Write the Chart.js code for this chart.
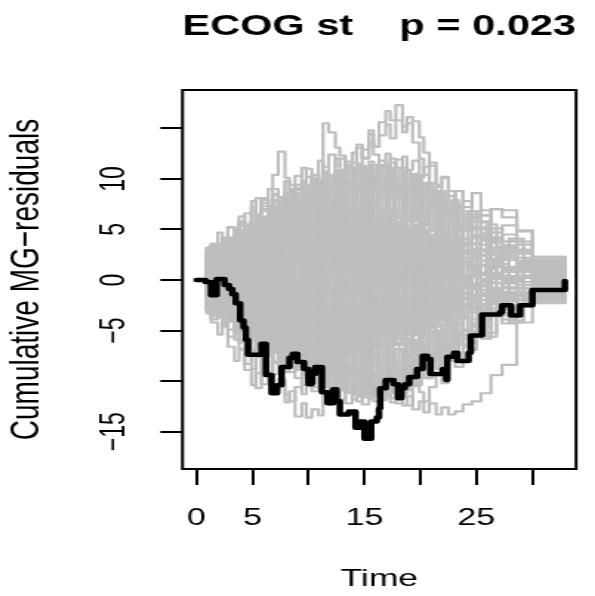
<!DOCTYPE html>
<html>
<head>
<meta charset="utf-8">
<title>ECOG st - cumulative MG residuals</title>
<script src="https://cdn.jsdelivr.net/npm/chart.js@4/dist/chart.umd.min.js"></script>
<style>
  html, body { margin: 0; padding: 0; background: #fff; overflow: hidden; }
  /* the R device was narrow and got stretched sideways, so draw narrow and stretch too */
  #wrap { width: 402px; height: 596px; transform: scale(1.4801, 1); transform-origin: 0 0; }
</style>
</head>
<body>
<div id="wrap"><canvas id="chart" width="402" height="596"></canvas></div>
<script>
// observed process (black)
const blackTimes = [0, 0.8, 1.3, 1.8, 2.5, 2.9, 3.2, 3.5, 3.9, 4.2, 4.4, 4.6, 5.8, 6.2, 6.7, 7.2, 7.6, 8.3, 8.6, 9.0,
  9.6, 10.0, 10.3, 10.6, 11.2, 11.7, 12.2, 12.5, 12.8, 13.6, 14.2, 14.6, 15.0, 15.6, 16.1, 16.3, 16.4, 16.9, 17.6, 18.0,
  18.3, 18.6, 19.0, 19.7, 20.2, 20.6, 20.9, 22.0, 22.3, 22.4, 23.0, 23.3, 24.3, 24.5, 25.5, 27.1, 27.3, 28.1, 28.9, 30.0, 32.9]
const blackValues = [0, -0.2, -1.5, 0.1, -0.5, -0.9, -1.4, -2.3, -4.0, -4.7, -5.9, -7.4, -6.3, -9.4, -11.2, -10.4, -8.6, -7.7, -7.3, -8.1,
  -8.8, -10.3, -9.3, -8.6, -11.1, -12.2, -10.8, -12.0, -13.3, -13.0, -14.6, -14.0, -15.7, -14.0, -13.6, -12.7, -10.7, -9.9, -10.3, -11.7,
  -10.7, -10.3, -9.6, -8.8, -7.5, -7.8, -9.3, -8.8, -9.9, -7.6, -7.2, -8.0, -7.2, -5.5, -3.4, -3.2, -2.5, -3.5, -2.5, -1.0, -0.1]

// simulated processes (grey), first batch
const simTimes = [0, 0.9, 1.3, 1.9, 2.3, 2.8, 3.4, 3.8, 4.3,
  4.9, 5.3, 5.8, 6.4, 6.8, 7.3, 7.9, 8.3, 8.8,
  9.4, 9.8, 10.3, 10.9, 11.3, 11.8, 12.4, 12.8, 13.3,
  13.9, 14.3, 14.8, 15.4, 15.8, 16.3, 16.9, 17.3, 17.8,
  18.4, 18.8, 19.3, 19.9, 20.3, 20.8, 21.4, 21.9, 22.5,
  23.1, 23.8, 24.6, 25.4, 26.3, 27.3, 28.6, 30.0, 32.9]
const simPaths = [
  [0, 1.2, 2.6, 1.4, 3.1, 2.2, 3.6, 4.8, 3.9, 5.6, 4.4, 6.8, 5.5, 7.3, 6.1, 8.2, 7.0, 9.1, 8.0, 9.4, 8.3, 9.6, 15.5, 14.6, 13.1, 12.3, 11.2,
    12.6, 11.5, 12.9, 14.4, 13.2, 15.6, 16.7, 15.8, 17.3, 15.2, 16.1, 15.7, 14.1, 12.6, 11.3, 9.4, 10.2, 7.6, 8.8, 6.8, 5.2, 6.4, 4.1, 3.4, 2.8, 1.6, 1.9],
  [0, -0.8, 0.5, 1.4, 0.3, 2.2, 1.1, 2.6, 3.4, 2.2, 4.4, 3.1, 5.1, 3.9, 6.3, 5.0, 7.1, 5.8, 8.0, 6.6, 9.1, 7.7, 9.4, 8.2, 10.8, 9.3, 11.4,
    10.2, 13.4, 12.1, 14.8, 13.2, 14.3, 15.4, 14.0, 15.8, 14.6, 15.5, 13.6, 12.0, 10.4, 11.6, 9.2, 10.1, 8.8, 6.9, 7.8, 5.8, 5.0, 4.2, 3.1, 2.9, 2.3, 2.1],
  [0, 2.1, 3.3, 2.2, 4.1, 5.2, 4.0, 5.5, 4.4, 5.9, 8.1, 7.0, 9.0, 10.4, 12.7, 10.1, 9.4, 8.1, 9.3, 7.6, 8.6, 7.2, 6.3, 7.5, 5.4, 6.6, 4.8,
    6.1, 4.5, 3.9, 5.0, 2.6, 3.8, 2.2, 3.1, 1.4, 2.7, 1.0, 1.8, 0.6, 1.9, 0.4, 0.9, 2.0, 2.4, 1.1, 1.6, 0.8, 1.9, 1.4, 0.4, 1.5, 1.2, 1.0],
  [0, -2.2, -3.4, -2.5, -4.6, -3.7, -5.9, -6.8, -8.3, -7.1, -10.7, -9.4, -10.2, -11.0, -9.8, -12.1, -11.0, -13.5, -12.2, -13.6, -12.8, -13.4, -11.2, -12.3, -10.6, -11.8, -9.4,
    -10.5, -8.2, -9.0, -7.1, -8.3, -6.4, -7.8, -5.2, -6.3, -4.6, -5.8, -3.9, -4.9, -3.1, -4.4, -2.7, -3.6, -3.2, -2.0, -2.9, -2.6, -1.4, -2.2, -1.6, -2.4, -1.8, -1.5],
  [0, -1.1, -0.4, -1.8, -0.7, -2.5, -1.6, -3.2, -2.4, -3.9, -2.8, -5.1, -4.3, -5.8, -4.7, -6.6, -5.4, -7.2, -6.0, -8.1, -7.0, -8.6, -7.5, -9.5, -8.4, -10.2, -9.1,
    -10.8, -9.6, -11.6, -10.2, -10.9, -11.8, -11.3, -12.1, -11.0, -12.4, -11.5, -12.8, -12.0, -13.1, -12.2, -13.3, -12.6, -13.3, -13.0, -12.3, -12.0, -11.2, -9.4, -8.4, -4.2, -2.3, -2.1],
  [0, -1.6, -2.8, -1.7, -3.5, -4.9, -3.8, -6.2, -7.4, -8.8, -7.6, -10.3, -9.1, -11.1, -10.4, -11.3, -12.0, -10.6, -11.3, -9.8, -10.6, -8.9, -9.9, -8.1, -9.2, -7.4, -8.6,
    -6.9, -7.5, -5.8, -6.9, -6.4, -5.0, -5.9, -4.1, -5.3, -3.6, -4.4, -2.8, -3.9, -3.3, -2.1, -2.8, -1.5, -2.4, -1.1, -1.9, -0.6, -1.3, -0.8, -1.5, -0.5, -0.6, -0.8],
  [0, 0.6, 1.8, 1.1, 2.6, 1.7, 3.4, 2.5, 4.0, 3.1, 5.5, 4.6, 6.1, 5.2, 6.8, 5.6, 7.5, 6.3, 7.9, 6.8, 8.7, 7.6, 9.3, 8.2, 9.0, 7.9, 9.7,
    8.6, 10.6, 9.8, 11.0, 9.9, 11.4, 10.4, 12.0, 11.1, 12.2, 10.9, 11.8, 10.1, 11.2, 8.4, 9.2, 7.6, 8.3, 7.1, 6.0, 6.8, 4.4, 5.1, 3.2, 3.8, 1.8, 1.5],
  [0, 1.5, 0.8, 2.4, 1.6, 3.7, 2.9, 4.9, 3.6, 5.8, 4.7, 7.0, 6.1, 8.4, 7.2, 9.7, 8.9, 10.3, 9.2, 11.0, 10.1, 11.8, 10.7, 12.4, 11.3, 12.0, 10.9,
    11.6, 13.1, 12.0, 13.6, 12.4, 11.2, 12.5, 10.8, 11.9, 10.5, 9.3, 10.4, 8.2, 9.5, 8.9, 7.3, 8.6, 7.8, 8.8, 7.2, 8.6, 6.4, 7.0, 6.9, 4.8, 2.0, 2.2],
  [0, 0.4, -0.6, 0.9, 1.7, 0.8, 2.1, 1.3, 2.8, 1.6, 3.4, 2.2, 3.9, 2.7, 4.3, 3.1, 2.0, 3.5, 2.3, 4.4, 3.2, 2.4, 3.8, 2.9, 1.6, 3.0, 2.5,
    3.6, 2.1, 1.2, 2.6, 1.8, 3.1, 2.0, 0.7, 1.5, 2.4, 1.3, 2.8, 1.6, 0.6, 1.9, 1.0, 2.2, 1.7, 0.9, 1.8, 1.2, 0.5, 1.4, 0.8, 1.6, 0.9, 0.7],
  [0, -0.9, -1.8, -0.7, -2.6, -1.5, -3.1, -2.2, -4.0, -3.2, -4.7, -3.6, -5.5, -4.4, -6.2, -5.3, -6.9, -5.7, -7.7, -6.5, -5.4, -6.8, -7.9, -6.6, -7.3, -5.9, -6.7,
    -5.1, -6.4, -5.8, -4.6, -5.5, -3.7, -4.9, -3.4, -4.3, -2.6, -3.5, -4.2, -2.2, -3.4, -2.9, -1.6, -2.7, -2.2, -1.3, -2.4, -1.7, -2.0, -1.1, -1.8, -1.4, -1.3, -1.0],
  [0, 2.8, 3.5, 2.7, 4.2, 3.3, 5.0, 6.3, 5.4, 6.8, 5.7, 7.6, 6.5, 7.9, 6.9, 8.6, 7.4, 8.2, 9.1, 7.8, 8.9, 6.6, 7.2, 5.9, 7.3, 6.7, 5.3,
    6.4, 4.2, 5.6, 4.6, 5.9, 3.7, 4.9, 3.3, 4.1, 2.8, 3.6, 4.4, 2.5, 3.1, 2.0, 3.4, 2.7, 1.9, 2.8, 1.6, 2.5, 1.9, 2.9, 2.2, 1.4, 1.6, 1.8],
  [0, -0.5, -1.3, -0.6, -2.0, -1.1, -2.9, -3.8, -2.9, -4.5, -3.6, -5.2, -4.1, -6.1, -5.0, -6.7, -5.6, -7.8, -6.9, -8.6, -7.4, -9.1, -8.0, -10.0, -9.2, -10.9, -9.8,
    -11.8, -10.7, -12.3, -11.2, -12.0, -10.4, -11.3, -9.6, -10.5, -8.7, -9.8, -7.9, -8.6, -6.8, -7.7, -5.9, -6.6, -4.3, -5.2, -3.7, -4.4, -2.9, -3.3, -1.9, -2.5, -1.0, -1.2],
  [0, 3.2, 2.1, 3.6, 2.8, 4.1, 3.3, 4.8, 3.7, 5.2, 4.0, 3.1, 4.6, 5.4, 4.3, 5.7, 6.5, 5.4, 4.6, 5.9, 4.8, 3.9, 5.2, 6.0, 4.9, 5.8, 4.5,
    3.8, 5.1, 4.3, 3.2, 4.0, 5.3, 4.4, 2.9, 3.6, 4.7, 3.5, 2.4, 3.8, 4.6, 3.3, 2.6, 3.9, 3.0, 4.1, 2.9, 3.6, 2.4, 3.2, 2.6, 3.0, 2.3, 2.0],
  [0, -3.3, -2.4, -3.7, -2.6, -4.1, -3.0, -4.5, -3.3, -2.1, -3.6, -2.7, -4.2, -3.1, -4.6, -5.5, -4.4, -3.2, -4.5, -3.6, -2.4, -3.8, -4.7, -3.5, -2.6, -3.9, -3.0,
    -4.3, -3.2, -2.3, -3.4, -4.5, -3.3, -2.5, -3.7, -2.8, -1.8, -3.0, -3.9, -2.6, -1.7, -2.9, -3.6, -2.4, -1.9, -3.1, -2.5, -1.8, -2.6, -1.7, -2.8, -2.0, -2.1, -2.2],
  [0, 0.9, 1.6, 0.7, 2.5, 1.4, 2.9, 3.8, 2.7, 1.5, 2.4, 0.9, 1.8, -0.6, 0.4, -1.2, -0.3, -2.4, -1.5, -3.3, -2.2, -4.6, -3.8, -5.5, -4.4, -6.7, -5.6,
    -7.9, -6.8, -8.8, -7.6, -8.4, -9.2, -8.0, -9.6, -10.1, -9.4, -10.3, -8.3, -9.1, -7.1, -8.0, -6.2, -7.3, -5.0, -5.9, -3.8, -4.6, -2.9, -3.5, -2.1, -1.2, -0.4, -0.5],
  [0, -1.9, -3.0, -2.1, -4.1, -5.6, -4.5, -6.0, -5.1, -7.3, -6.2, -8.4, -7.5, -9.3, -8.1, -7.0, -8.0, -5.8, -6.6, -4.9, -5.8, -3.7, -4.5, -2.5, -3.4, -1.2, -2.3,
    -0.6, -1.4, 0.8, -0.1, 2.1, 1.0, 3.5, 2.6, 4.3, 3.2, 5.8, 4.6, 7.1, 6.2, 7.9, 6.2, 5.1, 6.0, 4.0, 4.9, 3.6, 4.2, 2.7, 3.3, 2.2, 1.4, 1.3],
  [0, -0.3, 0.7, -0.4, -1.3, -0.5, -1.9, -1.0, 0.3, -0.8, -2.0, -1.1, -2.6, -1.6, -0.5, -1.8, -2.9, -1.7, -0.9, -2.2, -1.3, -0.2, -1.5, -2.4, -1.2, -0.3, -1.4,
    -0.6, 0.5, -0.7, 0.3, -0.4, 0.6, -0.9, -0.2, 0.5, -0.6, 0.8, -0.3, 0.4, -0.8, 0.2, 1.0, -0.1, 0.6, -0.2, 0.5, -0.4, 0.7, 0.1, -0.3, 0.4, 0.2, 0.3],
  [0, 1.8, 2.9, 1.9, 4.0, 3.1, 4.6, 5.8, 4.7, 7.2, 6.3, 7.9, 6.8, 9.0, 8.1, 9.8, 8.7, 9.4, 11.1, 10.2, 8.9, 9.7, 8.4, 9.2, 7.1, 8.0, 6.8,
    7.7, 5.5, 6.4, 4.9, 5.8, 3.7, 4.8, 3.3, 4.2, 2.1, 3.0, 1.8, 2.6, 0.6, 1.5, 0.4, 1.3, 1.1, 0.2, 1.2, 0.5, 1.4, 0.3, 1.0, 0.4, 0.8, 0.6],
  [0, -1.4, -0.7, -2.2, -1.2, -3.1, -2.0, -3.5, -2.6, -4.4, -3.3, -4.9, -3.9, -5.8, -4.6, -6.0, -5.2, -7.1, -6.2, -7.5, -6.6, -8.3, -7.2, -8.8, -7.9, -9.6, -8.4,
    -9.9, -8.9, -10.8, -9.7, -11.0, -10.1, -11.6, -10.7, -12.2, -11.4, -12.4, -10.2, -11.1, -12.0, -10.6, -9.3, -10.2, -7.8, -8.6, -6.4, -5.1, -5.8, -3.6, -4.3, -2.6, -1.9, -1.6],
  [0, -0.7, 0.6, 1.3, 0.4, 1.8, 1.0, 2.4, 1.5, 3.3, 2.5, 3.8, 2.9, 4.4, 3.6, 5.1, 4.2, 5.6, 4.7, 6.5, 5.3, 6.8, 5.9, 7.5, 6.4, 7.8, 6.7,
    8.5, 7.4, 8.3, 7.0, 9.1, 8.0, 9.0, 8.1, 9.4, 8.3, 9.2, 8.0, 9.1, 7.9, 8.8, 7.6, 8.5, 6.6, 7.3, 5.3, 6.2, 6.9, 4.7, 5.4, 3.5, 1.1, 1.4],
  [0, -2.8, -3.9, -3.1, -4.5, -3.6, -5.3, -4.2, -5.8, -6.9, -5.7, -7.0, -6.1, -8.1, -6.9, -5.6, -6.4, -5.2, -4.0, -5.3, -6.1, -4.8, -5.6, -4.3, -5.4, -3.1, -4.2,
    -5.0, -3.7, -4.6, -2.8, -3.6, -4.4, -2.4, -3.3, -4.1, -2.1, -3.0, -1.2, -2.0, -2.9, -0.9, -1.6, -2.5, -1.1, -1.9, -0.8, -1.5, -0.6, -1.3, -0.7, -1.2, -0.8, -0.9],
  [0, 1.0, 2.2, 1.3, 2.7, 3.9, 2.8, 4.8, 3.7, 5.1, 4.0, 6.0, 5.2, 7.2, 6.3, 5.1, 6.2, 4.8, 5.7, 3.5, 4.4, 2.9, 3.8, 1.8, 2.6, 1.2, 2.0,
    0.1, 1.0, -1.3, -0.4, -2.0, -0.9, -3.1, -2.2, -3.8, -2.6, -4.9, -3.7, -5.7, -4.5, -6.3, -5.2, -6.0, -5.0, -6.3, -5.0, -3.9, -4.6, -2.8, -3.3, -1.9, -0.2, -0.4],
  [0, -1.2, -2.0, -1.1, -2.5, -3.6, -2.7, -4.3, -3.4, -5.6, -4.5, -6.5, -5.4, -7.0, -6.1, -8.1, -7.2, -8.9, -7.8, -9.2, -8.4, -8.0, -9.1, -6.7, -7.6, -5.5, -6.3,
    -4.6, -5.4, -3.2, -4.1, -1.9, -2.8, -1.0, -1.8, 0.6, -0.3, 1.9, 1.0, 2.6, 1.7, 3.8, 2.9, 4.6, 3.7, 5.0, 4.1, 3.0, 3.9, 2.5, 3.2, 1.8, 0.5, 0.7],
  [0, 0.7, 1.4, 0.5, 1.9, 1.1, 2.3, 1.6, 2.8, 2.0, 1.2, 2.5, 3.3, 2.4, 1.5, 2.7, 1.8, 3.0, 2.2, 1.3, 2.6, 3.4, 2.5, 1.7, 2.9, 2.0, 1.1,
    2.3, 1.5, 2.6, 1.7, 0.9, 1.8, 2.7, 1.0, 1.6, 2.5, 1.4, 0.6, 1.7, 2.4, 1.2, 0.5, 1.6, 2.2, 1.0, 1.7, 0.8, 1.5, 0.7, 1.3, 0.9, 0.4, 0.6],
  [0, 2.4, 3.6, 4.7, 3.5, 5.2, 4.3, 5.7, 6.6, 7.8, 6.5, 8.1, 6.9, 8.5, 7.4, 6.2, 7.3, 5.8, 4.7, 5.9, 4.5, 3.4, 4.2, 2.9, 3.8, 1.8, 3.0,
    1.9, 0.8, 1.7, 0.5, 1.4, -0.6, 0.4, -0.7, 0.2, -0.5, 0.9, 0.3, -0.8, -0.3, 0.6, -0.4, 0.5, -0.2, 0.8, -0.3, 0.4, -0.5, 0.3, -0.2, 0.4, -0.3, -0.1],
  [0, -0.2, -1.1, -2.0, -1.2, -2.7, -1.8, -3.4, -2.5, -4.0, -3.1, -4.7, -3.6, -5.2, -4.1, -6.1, -5.0, -6.5, -5.4, -7.4, -6.3, -7.7, -6.6, -8.4, -7.2, -6.0, -7.1,
    -5.7, -6.6, -7.8, -5.2, -6.7, -8.2, -7.0, -5.6, -6.4, -4.1, -5.0, -3.8, -4.6, -5.4, -3.1, -3.9, -2.2, -3.0, -1.8, -2.6, -1.6, -2.4, -1.5, -2.1, -1.4, -1.6, -1.8],
  [0, 0.2, -0.9, -0.1, 0.8, -0.3, 1.2, 0.4, 1.9, 1.0, 2.5, 1.6, 3.6, 2.7, 4.1, 3.2, 5.3, 4.2, 5.9, 4.9, 6.8, 5.7, 7.3, 6.2, 8.0, 7.1, 8.6,
    7.5, 9.4, 8.3, 10.2, 9.0, 9.8, 8.7, 10.4, 9.3, 10.2, 9.0, 10.5, 7.7, 8.6, 7.2, 8.1, 6.1, 7.0, 5.2, 6.3, 5.0, 5.7, 3.9, 4.5, 2.6, 0.8, 1.0],
  [0, -3.0, -4.2, -5.4, -4.3, -6.6, -8.0, -6.9, -8.9, -10.4, -9.2, -8.1, -9.5, -6.8, -7.6, -5.9, -6.8, -4.6, -5.5, -4.0, -2.8, -3.6, -2.2, -3.3, -1.1, -2.4, -1.3,
    -0.2, -1.4, -0.5, 0.7, -0.6, 0.4, -0.8, 0.3, -0.9, 0.1, -0.7, 0.5, 0.2, -0.5, 0.8, -0.4, 0.6, -0.2, 0.5, -0.3, 0.4, -0.6, 0.3, -0.2, 0.2, 0.0, -0.2],
  [0, 0.5, 1.7, 0.9, -0.2, 1.1, 0.3, -0.8, 0.6, 1.5, 0.4, 1.8, 2.9, 1.9, 3.2, 2.3, 3.7, 2.6, 4.0, 3.1, 5.1, 4.2, 5.5, 4.4, 5.8, 4.9, 6.7,
    5.6, 6.9, 5.7, 6.6, 7.4, 6.2, 7.0, 5.8, 6.8, 5.6, 6.5, 7.2, 6.0, 6.9, 5.5, 6.4, 7.1, 6.0, 6.7, 5.4, 6.5, 5.8, 7.0, 6.2, 4.9, 2.2, 2.3],
  [0, -1.7, -0.9, -2.3, -1.4, -3.6, -2.6, -4.7, -3.8, -5.1, -4.2, -6.3, -5.2, -6.7, -5.8, -7.5, -6.4, -8.6, -7.6, -9.0, -8.2, -9.4, -8.0, -8.9, -6.9, -7.8, -6.5,
    -5.3, -6.2, -4.8, -5.7, -3.6, -4.5, -3.3, -4.2, -2.1, -3.0, -1.9, -2.8, -0.8, -1.7, -0.6, -1.5, -0.4, -1.3, -0.5, -1.4, -0.7, -1.6, -0.9, -1.3, -0.8, -1.1, -1.2],
  [0, 1.9, 0.8, 2.3, 3.4, 2.5, 3.9, 4.8, 3.6, 5.0, 6.3, 5.1, 6.7, 7.8, 6.6, 8.0, 7.2, 8.9, 9.8, 8.6, 10.4, 9.3, 11.2, 10.1, 12.0, 10.9, 11.7,
    10.5, 11.4, 9.8, 10.9, 9.6, 10.3, 8.7, 9.5, 8.1, 9.0, 7.8, 6.4, 7.5, 5.9, 6.8, 4.7, 5.6, 4.3, 5.1, 3.6, 4.4, 3.0, 3.7, 2.4, 1.6, 0.3, 0.5],
  [0, -0.9, -2.1, -1.3, -3.0, -2.2, -3.9, -5.0, -4.1, -6.0, -5.2, -7.3, -6.3, -8.2, -7.4, -9.1, -8.0, -9.7, -10.4, -9.3, -11.0, -10.1, -11.7, -10.5, -11.9, -10.8, -12.2,
    -11.3, -12.0, -10.7, -11.4, -9.8, -10.6, -9.1, -9.9, -8.2, -9.0, -7.6, -8.4, -6.8, -7.5, -5.9, -6.6, -5.1, -5.8, -4.3, -4.9, -3.2, -3.8, -2.4, -2.9, -1.6, -1.7, -1.5],
  [0, 1.4, 2.5, 1.2, 3.0, 1.9, 3.6, 2.4, 4.1, 2.9, 4.6, 3.3, 5.2, 3.8, 5.5, 4.1, 6.0, 4.6, 6.4, 4.9, 6.9, 5.1, 7.2, 5.6, 7.4, 5.8, 7.1,
    5.5, 7.3, 5.9, 7.7, 6.0, 7.2, 5.4, 6.9, 5.2, 6.6, 4.8, 6.1, 4.3, 5.7, 3.9, 5.0, 3.4, 4.6, 3.0, 4.1, 2.6, 3.5, 2.1, 2.9, 1.5, 1.9, 2.1],
  [0, -2.0, -0.9, -2.7, -1.6, -3.3, -2.1, -3.9, -2.6, -4.4, -3.0, -5.1, -3.7, -5.6, -4.2, -6.3, -4.8, -6.6, -5.1, -7.0, -5.5, -7.3, -5.8, -7.1, -5.4, -6.8, -5.0,
    -6.5, -4.7, -6.2, -4.4, -5.9, -4.0, -5.6, -3.8, -5.3, -3.5, -5.0, -3.1, -4.6, -2.8, -4.1, -2.4, -3.7, -2.0, -3.2, -1.8, -2.7, -1.5, -2.3, -1.2, -1.9, -1.3, -1.1],
  [0, 2.6, 1.5, 3.0, 2.0, 3.5, 2.3, 1.2, 2.4, 0.9, 2.0, 0.4, 1.5, -0.3, 1.0, -0.8, 0.5, -1.4, -0.2, -2.0, -0.7, -2.6, -1.3, -3.2, -1.8, -3.8, -2.4,
    -4.1, -2.6, -3.9, -2.2, -3.5, -1.6, -3.0, -1.1, -2.4, -0.6, -1.8, 0.0, -1.2, 0.6, -0.5, 1.3, 0.1, 1.8, 0.6, 2.2, 1.0, 2.5, 1.3, 2.0, 1.1, 1.5, 1.7],
  [0, -1.0, 0.2, -1.5, -0.4, -2.1, -0.9, -2.4, -1.1, -2.6, -1.2, -2.9, -1.5, -0.3, -1.8, -0.4, 0.9, -0.2, 1.3, 0.1, 1.9, 0.6, 2.4, 1.2, 3.0, 1.8, 3.5,
    2.3, 4.0, 2.7, 4.6, 3.3, 5.1, 3.9, 5.6, 4.4, 6.0, 4.7, 5.5, 3.9, 4.8, 3.1, 4.0, 2.4, 3.2, 1.8, 2.6, 1.1, 1.9, 0.5, 1.2, -0.2, -0.6, -0.4],
  [0, 2.5, -0.5, 3.0, 0.4, 3.8, 0.9, 4.2, 1.5, 5.0, 1.9, 5.8, 2.6, 6.6, 3.1, 7.2, 3.8, 7.7, 4.2, 8.1, 4.6, 8.4, 5.0, 8.8, 5.2, 8.5, 4.9,
    8.2, 4.5, 7.9, 4.1, 7.5, 3.8, 7.0, 3.3, 6.6, 2.9, 6.1, 2.4, 5.5, 1.8, 4.9, 1.3, 4.2, 0.9, 3.6, 0.5, 2.8, 0.1, 2.1, -0.3, 1.4, 0.7, 0.9],
  [0, -2.6, 0.3, -3.1, -0.4, -3.7, -1.0, -4.4, -1.6, -5.1, -2.0, -5.9, -2.6, -6.5, -3.2, -7.1, -3.7, -7.6, -4.1, -7.9, -4.4, -8.3, -4.8, -8.6, -5.0, -8.4, -4.7,
    -8.0, -4.4, -7.7, -4.0, -7.3, -3.6, -6.8, -3.2, -6.4, -2.8, -5.9, -2.3, -5.3, -1.9, -4.7, -1.4, -4.1, -0.9, -3.4, -0.6, -2.7, -0.2, -2.0, 0.3, -1.3, -0.5, -0.7],
  [0, 2.0, -1.8, 2.6, -2.3, 2.9, -2.8, 3.3, -3.0, 3.5, -3.2, 3.8, -3.4, 4.1, -3.6, 4.3, -3.9, 4.5, -4.0, 4.6, -4.1, 4.4, -3.9, 4.7, -4.2, 4.3, -3.8,
    4.1, -3.6, 3.9, -3.4, 3.6, -3.1, 3.4, -2.9, 3.1, -2.7, 2.9, -2.4, 2.6, -2.1, 2.3, -1.8, 2.0, -1.6, 1.8, -1.3, 1.5, -1.0, 1.3, -0.8, 1.0, -0.5, -0.3],
  [0, 1.3, 3.4, 0.9, 4.0, 1.6, 4.9, 2.3, 5.5, 3.0, 6.4, 3.8, 7.3, 4.6, 8.2, 5.4, 9.0, 6.1, 9.6, 6.7, 10.1, 7.2, 10.5, 7.6, 10.8, 7.9, 11.0,
    8.1, 10.9, 7.8, 10.6, 7.5, 10.2, 7.1, 9.8, 6.7, 9.3, 6.2, 8.8, 5.6, 8.1, 5.0, 7.4, 4.3, 6.6, 3.6, 5.7, 2.8, 4.6, 1.9, 3.4, 1.1, 1.3, 1.5],
  [0, -1.5, -3.6, -1.0, -4.2, -1.8, -5.0, -2.5, -5.7, -3.2, -6.6, -4.0, -7.4, -4.8, -8.3, -5.5, -9.1, -6.2, -9.7, -6.8, -10.2, -7.3, -10.6, -7.7, -10.9, -8.0, -11.1,
    -8.2, -11.0, -7.9, -10.7, -7.6, -10.3, -7.2, -9.9, -6.8, -9.4, -6.3, -8.9, -5.7, -8.2, -5.1, -7.5, -4.4, -6.7, -3.7, -5.8, -2.9, -4.7, -2.0, -3.5, -1.2, -1.4, -1.6],
  [0, 1.1, -1.0, 2.2, -0.4, 2.8, 0.2, 3.5, 0.8, 4.1, 1.2, 4.6, 1.7, 5.0, 2.1, 5.4, 2.4, 5.6, 2.6, 5.9, 2.9, 6.1, 3.0, 6.0, 2.8, 5.8, 2.5,
    5.5, 2.2, 5.2, 1.9, 4.9, 1.6, 4.6, 1.4, 4.3, 1.2, 4.0, 1.0, 3.7, 0.8, 3.4, 0.6, 3.0, 0.4, 2.6, 0.3, 2.2, 0.1, 1.8, -0.1, 1.4, 0.6, 0.8],
  [0, -1.2, 0.9, -2.3, 0.3, -2.9, -0.3, -3.6, -0.9, -4.2, -1.3, -4.7, -1.8, -5.1, -2.2, -5.5, -2.5, -5.7, -2.7, -6.0, -3.0, -6.2, -3.1, -6.1, -2.9, -5.9, -2.6,
    -5.6, -2.3, -5.3, -2.0, -5.0, -1.7, -4.7, -1.5, -4.4, -1.3, -4.1, -1.1, -3.8, -0.9, -3.5, -0.7, -3.1, -0.5, -2.7, -0.4, -2.3, -0.2, -1.9, 0.0, -1.5, -0.7, -0.9],
  [0, -1.4, 0.6, -2.2, 0.0, -2.8, -0.6, -3.5, -1.2, -4.0, -1.6, -4.4, -2.0, -4.6, -2.1, -4.5, -1.9, -4.2, -1.3, -3.6, -0.6, -2.9, 0.2, -2.1, 1.0, -1.2, 1.8,
    -0.4, 2.7, 0.5, 3.5, 1.3, 4.3, 2.1, 5.0, 2.8, 5.6, 3.4, 6.1, 3.8, 6.3, 4.0, 6.2, 3.8, 5.9, 3.2, 5.1, 2.4, 4.0, 1.6, 2.8, 0.8, -0.3, -0.1],
  [0, 1.5, -0.4, 2.3, 0.2, 3.0, 0.8, 3.6, 1.4, 4.1, 1.8, 4.4, 2.1, 4.5, 2.0, 4.3, 1.7, 3.8, 1.0, 3.2, 0.3, 2.4, -0.6, 1.5, -1.4, 0.6, -2.3,
    -0.2, -3.2, -1.0, -4.0, -1.8, -4.8, -2.6, -5.6, -3.4, -6.3, -4.0, -6.9, -4.5, -7.2, -4.7, -7.0, -4.4, -6.5, -3.7, -5.4, -2.8, -4.1, -1.8, -2.7, -0.9, -1.0, -1.2],
  [0, 0.8, 2.4, 0.5, 3.1, 1.2, 3.9, 1.9, 4.6, 2.6, 5.4, 3.4, 6.2, 4.2, 7.0, 5.0, 7.8, 5.7, 8.5, 6.4, 9.2, 7.0, 9.9, 7.6, 10.5, 8.1, 11.0,
    8.6, 11.4, 9.0, 11.7, 9.3, 11.8, 9.4, 11.6, 9.2, 11.1, 8.7, 10.4, 8.0, 9.6, 7.2, 8.7, 6.3, 7.7, 5.3, 6.5, 4.2, 5.2, 3.0, 3.8, 1.9, 1.8, 2.0],
  [0, -0.9, -2.5, -0.6, -3.2, -1.3, -4.0, -2.0, -4.7, -2.7, -5.5, -3.5, -6.3, -4.3, -7.1, -5.1, -7.9, -5.8, -8.6, -6.5, -9.3, -7.1, -10.0, -7.7, -10.6, -8.2, -11.1,
    -8.7, -11.5, -9.1, -11.8, -9.4, -11.9, -9.5, -11.7, -9.3, -11.2, -8.8, -10.5, -8.1, -9.7, -7.3, -8.8, -6.4, -7.8, -5.4, -6.6, -4.3, -5.3, -3.1, -3.9, -2.0, -1.9, -2.1],
  [0, 3.0, -1.5, 3.5, -2.0, 4.0, -2.4, 4.4, -2.7, 4.8, -2.9, 5.1, -3.0, 5.3, -3.1, 5.5, -3.0, 5.6, -2.8, 5.7, -2.6, 5.8, -2.5, 5.6, -2.4, 5.5, -2.2,
    5.3, -2.0, 5.0, -1.8, 4.8, -1.6, 4.5, -1.4, 4.2, -1.2, 3.9, -1.0, 3.6, -0.8, 3.2, -0.6, 2.8, -0.4, 2.4, -0.2, 2.0, 0.0, 1.6, 0.2, 1.3, 0.9, 1.1],
  [0, -3.0, 1.4, -3.6, 1.9, -4.1, 2.3, -4.5, 2.6, -4.9, 2.8, -5.2, 2.9, -5.4, 3.0, -5.6, 2.9, -5.7, 2.7, -5.8, 2.5, -5.9, 2.4, -5.7, 2.3, -5.6, 2.1,
    -5.4, 1.9, -5.1, 1.7, -4.9, 1.5, -4.6, 1.3, -4.3, 1.1, -4.0, 0.9, -3.7, 0.7, -3.3, 0.5, -2.9, 0.3, -2.5, 0.1, -2.1, -0.1, -1.7, -0.3, -1.4, -0.9, -1.1],
  [0, 2.0, 0.2, 3.1, 1.0, 4.2, 1.9, 5.3, 2.8, 6.4, 3.9, 7.3, 4.6, 7.9, 5.1, 8.2, 5.3, 8.1, 5.0, 7.6, 4.4, 6.9, 3.7, 6.1, 2.9, 5.2, 2.0,
    4.3, 1.1, 3.4, 0.2, 2.5, -0.7, 1.6, -1.6, 0.7, -2.4, -0.1, -3.1, -0.8, -3.6, -1.3, -3.9, -1.5, -3.8, -1.4, -3.2, -0.9, -2.4, -0.3, -1.5, 0.3, 0.4, 0.2],
]

// second batch of simulated processes, read off the columns between the first batch's jumps
const simTimesB = [0, 1.1, 1.6, 2.1, 2.6, 3.1, 3.6, 4.1, 4.6,
  5.1, 5.6, 6.1, 6.6, 7.1, 7.6, 8.1, 8.6, 9.1,
  9.6, 10.1, 10.6, 11.1, 11.6, 12.1, 12.6, 13.1, 13.6,
  14.1, 14.6, 15.1, 15.6, 16.1, 16.6, 17.1, 17.6, 18.1,
  18.6, 19.1, 19.6, 20.1, 20.6, 21.1, 21.7, 22.2, 22.8,
  23.4, 24.2, 25.0, 25.9, 26.8, 27.9, 29.2, 30.0, 32.9]
const simPathsB = [
  [0, 2.2, -0.6, 3.1, -0.2, 3.9, 0.3, 4.6, 0.8, 5.2, 1.1, 5.9, 1.6, 6.4, 1.9, 6.9, 2.3, 7.2, 2.6, 7.4, 2.8, 7.6, 3.0, 7.5, 2.9, 7.3, 2.7,
    7.0, 2.5, 6.8, 2.2, 6.5, 2.0, 6.1, 1.7, 5.8, 1.5, 5.4, 1.2, 5.0, 1.0, 4.5, 0.7, 4.1, 0.5, 3.5, 0.3, 2.9, 0.1, 2.3, -0.1, 1.7, 1.2, 1.4],
  [0, -2.3, 0.5, -3.2, 0.1, -4.0, -0.4, -4.7, -0.9, -5.3, -1.2, -6.0, -1.7, -6.5, -2.0, -7.0, -2.4, -7.3, -2.7, -7.5, -2.9, -7.7, -3.1, -7.6, -3.0, -7.4, -2.8,
    -7.1, -2.6, -6.9, -2.3, -6.6, -2.1, -6.2, -1.8, -5.9, -1.6, -5.5, -1.3, -5.1, -1.1, -4.6, -0.8, -4.2, -0.6, -3.6, -0.4, -3.0, -0.2, -2.4, 0.0, -1.8, -1.3, -1.5],
  [0, 1.0, 2.9, 0.6, 3.5, 1.2, 4.2, 1.8, 4.9, 2.4, 5.6, 3.0, 6.3, 3.6, 7.0, 4.2, 7.6, 4.7, 8.1, 5.2, 8.6, 5.6, 9.0, 5.9, 9.3, 6.1, 9.5,
    6.3, 9.6, 6.4, 9.7, 6.4, 9.6, 6.3, 9.4, 6.1, 9.1, 5.8, 8.7, 5.4, 8.2, 4.9, 7.6, 4.3, 6.9, 3.7, 6.1, 3.0, 5.1, 2.2, 3.9, 1.4, 0.8, 1.0],
  [0, -1.1, -3.0, -0.7, -3.6, -1.3, -4.3, -1.9, -5.0, -2.5, -5.7, -3.1, -6.4, -3.7, -7.1, -4.3, -7.7, -4.8, -8.2, -5.3, -8.7, -5.7, -9.1, -6.0, -9.4, -6.2, -9.6,
    -6.4, -9.7, -6.5, -9.8, -6.5, -9.7, -6.4, -9.5, -6.2, -9.2, -5.9, -8.8, -5.5, -8.3, -5.0, -7.7, -4.4, -7.0, -3.8, -6.2, -3.1, -5.2, -2.3, -4.0, -1.5, -0.9, -1.1],
  [0, 2.8, -2.4, 3.4, -3.0, 3.9, -3.5, 4.3, -3.9, 4.6, -4.2, 4.9, -4.4, 5.1, -4.6, 5.2, -4.7, 5.3, -4.8, 5.3, -4.8, 5.2, -4.7, 5.1, -4.6, 5.0, -4.5,
    4.8, -4.3, 4.6, -4.1, 4.4, -3.9, 4.1, -3.6, 3.8, -3.3, 3.5, -3.0, 3.2, -2.7, 2.8, -2.4, 2.5, -2.1, 2.2, -1.8, 1.9, -1.5, 1.6, -1.2, 1.3, 0.2, 0.4],
  [0, 2.0, 0.6, 2.9, 1.1, 3.6, 1.7, 4.3, 2.3, 5.0, 2.8, 5.5, 3.2, 6.0, 3.6, 6.4, 3.9, 6.7, 4.2, 6.9, 4.4, 7.1, 4.5, 7.0, 4.4, 6.8, 4.2,
    6.6, 4.0, 6.4, 3.8, 6.1, 3.5, 5.8, 3.2, 5.5, 2.9, 5.1, 2.6, 4.7, 2.3, 4.3, 2.0, 3.9, 1.7, 3.4, 1.4, 2.9, 1.1, 2.4, 0.8, 1.9, 1.0, 1.2],
  [0, -2.1, -0.7, -3.0, -1.2, -3.7, -1.8, -4.4, -2.4, -5.1, -2.9, -5.6, -3.3, -6.1, -3.7, -6.5, -4.0, -6.8, -4.3, -7.0, -4.5, -7.2, -4.6, -7.1, -4.5, -6.9, -4.3,
    -6.7, -4.1, -6.5, -3.9, -6.2, -3.6, -5.9, -3.3, -5.6, -3.0, -5.2, -2.7, -4.8, -2.4, -4.4, -2.1, -4.0, -1.8, -3.5, -1.5, -3.0, -1.2, -2.5, -0.9, -2.0, -1.1, -1.3],
  [0, 1.6, 3.2, 1.5, 3.9, 2.2, 4.7, 3.0, 5.5, 3.8, 6.3, 4.6, 7.1, 5.4, 7.9, 6.1, 8.6, 6.8, 9.3, 7.4, 9.9, 7.9, 10.4, 8.3, 10.8, 8.6, 11.1,
    8.8, 11.3, 8.9, 11.4, 8.9, 11.3, 8.8, 11.1, 8.6, 10.8, 8.3, 10.3, 7.8, 9.6, 7.1, 8.8, 6.3, 7.9, 5.4, 6.8, 4.4, 5.5, 3.3, 4.1, 2.1, 1.9, 2.1],
  [0, -1.7, -3.3, -1.6, -4.0, -2.3, -4.8, -3.1, -5.6, -3.9, -6.4, -4.7, -7.2, -5.5, -8.0, -6.2, -8.7, -6.9, -9.4, -7.5, -10.0, -8.0, -10.5, -8.4, -10.9, -8.7, -11.2,
    -8.9, -11.4, -9.0, -11.5, -9.0, -11.4, -8.9, -11.2, -8.7, -10.9, -8.4, -10.4, -7.9, -9.7, -7.2, -8.9, -6.4, -8.0, -5.5, -6.9, -4.5, -5.6, -3.4, -4.2, -2.2, -2.0, -2.2],
  [0, -1.2, 1.8, -1.6, 2.3, -1.9, 2.7, -2.1, 3.0, -2.2, 3.3, -2.3, 3.5, -2.3, 3.7, -2.2, 3.8, -2.0, 4.0, -1.8, 4.1, -1.6, 4.2, -1.5, 4.1, -1.4, 4.0,
    -1.3, 3.9, -1.2, 3.7, -1.0, 3.5, -0.9, 3.3, -0.7, 3.0, -0.6, 2.8, -0.4, 2.5, -0.3, 2.2, -0.1, 1.9, 0.0, 1.6, 0.1, 1.3, 0.2, 1.0, 0.4, -0.2, 0.0],
]

// axis ticks; R drops the labels that would overlap
const xTicks = [0, 5, 10, 15, 20, 25, 30]
const xTickLabels = ['0', '5', '', '15', '', '25', '']
const yTicks = [-15, -10, -5, 0, 5, 10, 15]
const yTickLabels = ['\u221215', '', '\u22125', '0', '5', '10', '']

const FONT = "'Liberation Sans', Arial, Helvetica, sans-serif"
Chart.defaults.font.family = FONT
Chart.defaults.color = '#000'

// R draws a full box round the plot region
const boxPlugin = {
  id: 'plotBox',
  afterDraw(chart) {
    const { ctx, chartArea: a } = chart
    ctx.save()
    ctx.strokeStyle = '#000'
    ctx.lineWidth = 2
    ctx.strokeRect(a.left, a.top, a.right - a.left, a.bottom - a.top)
    ctx.restore()
  },
}

function greyLine(times, path, label) {
  return {
    label: label,
    data: times.map((t, i) => ({ x: t, y: path[i] })),
    borderColor: '#bebebe',
    borderWidth: 2.2,
    stepped: true,
    pointRadius: 0,
    borderJoinStyle: 'round',
  }
}

const datasets = [
  {
    label: 'observed',
    data: blackTimes.map((t, i) => ({ x: t, y: blackValues[i] })),
    borderColor: '#000',
    borderWidth: 4.5,
    stepped: true,
    pointRadius: 0,
    borderJoinStyle: 'round',
    borderCapStyle: 'round',
  },
]
simPaths.forEach((path, k) => datasets.push(greyLine(simTimes, path, 'sim ' + (k + 1))))
simPathsB.forEach((path, k) => datasets.push(greyLine(simTimesB, path, 'sim b' + (k + 1))))

new Chart(document.getElementById('chart'), {
  type: 'line',
  data: { datasets: datasets },
  plugins: [boxPlugin],
  options: {
    responsive: false,
    animation: false,
    devicePixelRatio: 1,
    layout: { padding: { left: 0, right: 12.8, top: 0, bottom: 0 } },
    plugins: {
      legend: { display: false },
      tooltip: { enabled: false },
      title: {
        display: true,
        text: 'ECOG st    p = 0.023',
        fullSize: false,
        color: '#000',
        font: { family: FONT, size: 30, weight: 'bold', lineHeight: 1 },
        padding: { top: 11.7, bottom: 48.3 },
      },
    },
    scales: {
      x: {
        type: 'linear',
        min: -1.25,
        max: 33.9,
        afterBuildTicks: (scale) => {
          scale.ticks = xTicks.map((v) => ({ value: v }))
        },
        afterFit: (scale) => {
          scale.height = 127
        },
        border: { display: false },
        grid: { drawOnChartArea: false, drawTicks: true, tickLength: 16, color: '#000', lineWidth: 2 },
        ticks: {
          autoSkip: false,
          maxRotation: 0,
          padding: 20,
          color: '#000',
          font: { size: 23 },
          callback: (value) => xTickLabels[xTicks.indexOf(value)],
        },
        title: {
          display: true,
          text: 'Time',
          color: '#000',
          font: { size: 24, lineHeight: 1 },
          padding: { top: 0, bottom: 5 },
        },
      },
      y: {
        min: -18.69,
        max: 18.79,
        afterBuildTicks: (scale) => {
          scale.ticks = yTicks.map((v) => ({ value: v }))
        },
        afterFit: (scale) => {
          scale.width = 123.3
        },
        border: { display: false },
        grid: { drawOnChartArea: false, drawTicks: true, tickLength: 15, color: '#000', lineWidth: 2 },
        ticks: {
          autoSkip: false,
          minRotation: 90,
          maxRotation: 90,
          crossAlign: 'center',
          padding: 11,
          color: '#000',
          font: { size: 23 },
          callback: (value) => yTickLabels[yTicks.indexOf(value)],
        },
        title: {
          display: true,
          text: 'Cumulative MG\u2212residuals',
          color: '#000',
          font: { size: 28, lineHeight: 1 },
          padding: { top: 4.6, bottom: 0 },
        },
      },
    },
  },
})
</script>
</body>
</html>
